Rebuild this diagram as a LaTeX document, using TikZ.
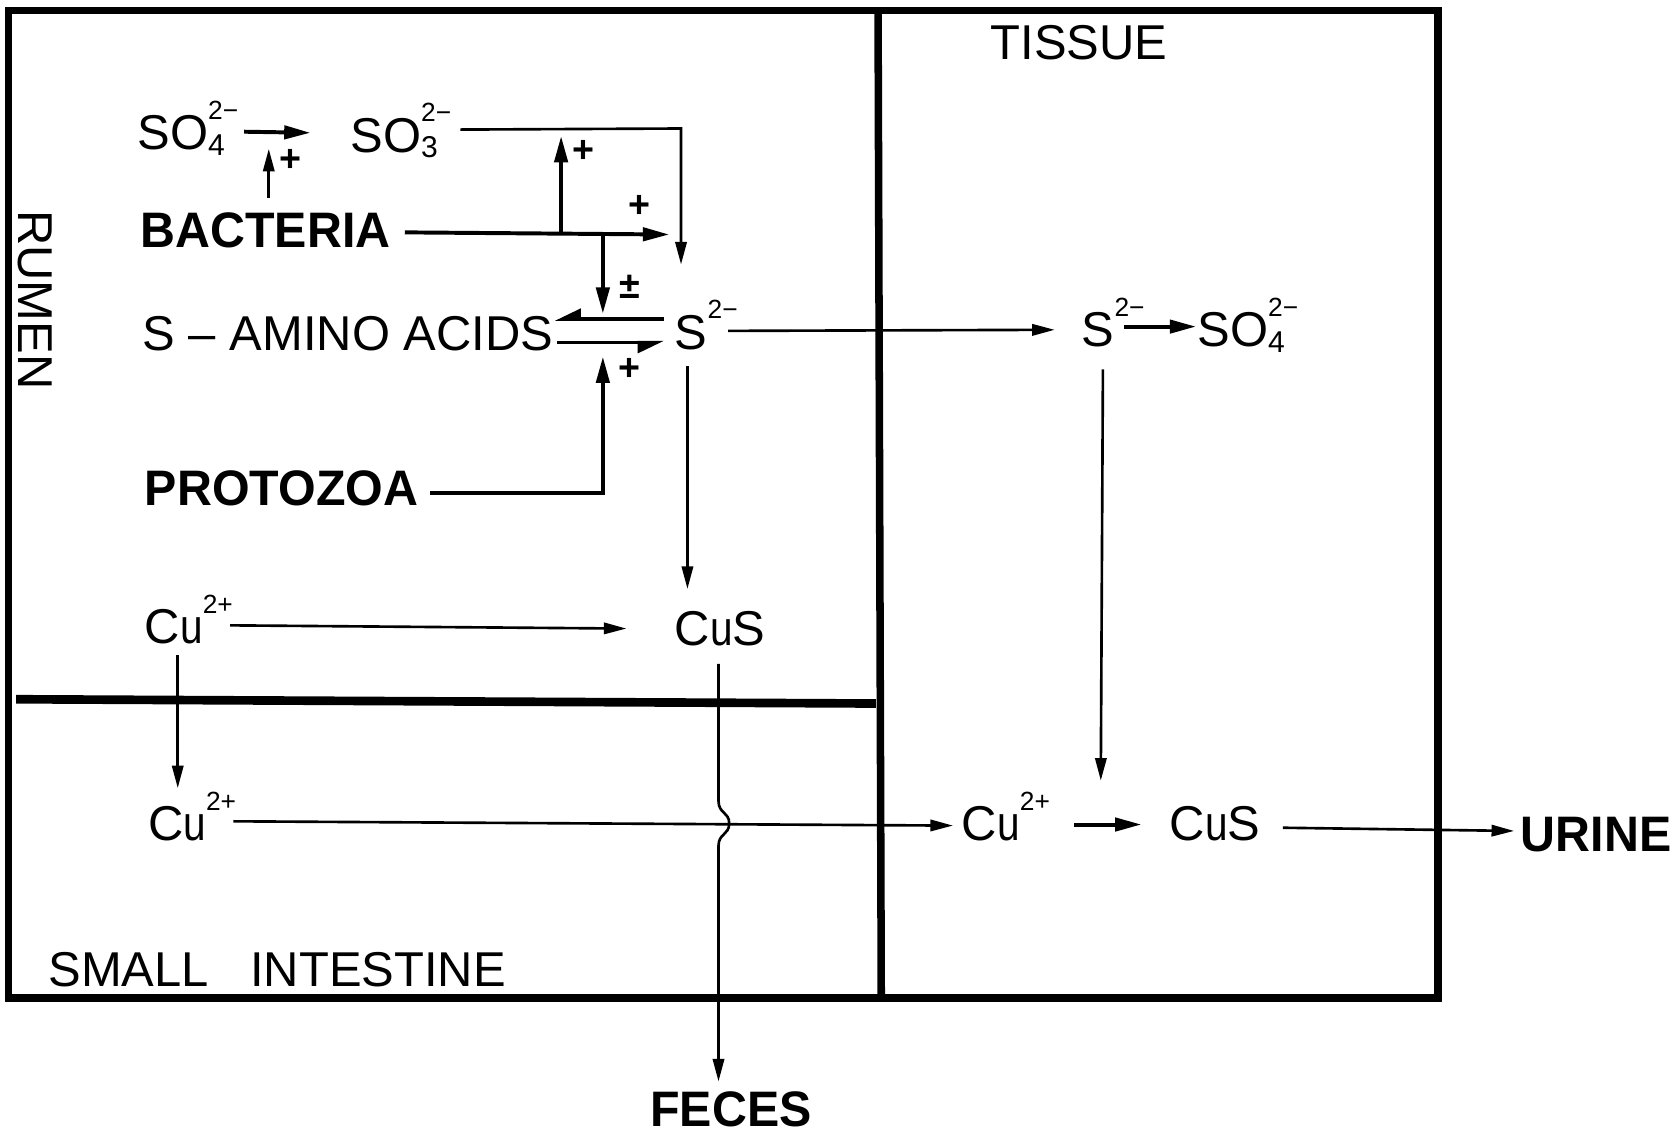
\documentclass[tikz,border=0pt]{standalone}
\usepackage{fontspec}
\setmainfont{Liberation Sans}
\newfontfamily\narrowfont[FakeStretch=0.83]{Liberation Sans}
\newfontfamily\boldcond[FakeStretch=0.97]{Liberation Sans Bold}
\usetikzlibrary{arrows.meta}
\newcommand\ionx[2]{\makebox[0pt][l]{\raisebox{-3pt}{\fontsize{16}{16}\selectfont #1}}\raisebox{16pt}{\fontsize{14}{14}\selectfont #2}}
\newcommand\cuu{C{\narrowfont u}}
\begin{document}
\begin{tikzpicture}[x=0.02cm,y=-0.02cm,
  lbl/.style={anchor=base west,inner sep=0pt,font=\fontsize{26}{28}\selectfont},
  blbl/.style={lbl,font=\boldcond\fontsize{26.5}{28}\selectfont},
  frame/.style={line width=4pt},
  thinarr/.style={line width=1.4pt,-{Triangle[length=12pt,width=6pt]}},
  thickarr/.style={line width=2.1pt,-{Triangle[length=14pt,width=7pt]}},
  harp/.style={line width=1.8pt,-{Triangle[harpoon,swap,length=12pt,width=11pt]}},
  sgn/.style={inner sep=0pt,font=\fontsize{20}{20}\selectfont\bfseries}]
\useasboundingbox (0,0) rectangle (1568,1059);
% compartments
\draw[frame] (8,10) rectangle (1343,932);
\draw[frame] (820,10) -- (823,932);
\draw[line width=4.6pt] (15,653) -- (818,657);
% labels
\node[lbl,anchor=center,rotate=-90] (rumen) at (33,280) {RUMEN};
\node[lbl] (tissue) at (925,56) {TISSUE};
\node[lbl] (si) at (45,921) {SMALL\hspace{22pt}INTESTINE};
% species
\node[lbl] (so4a) at (128,140) {SO\ionx{4}{2−}};
\node[lbl] (so3) at (327,142) {SO\ionx{3}{2−}};
\node[blbl] (bact) at (131,231) {BACTERIA};
\node[lbl] (saa) at (133,327) {S – AMINO ACIDS};
\node[lbl] (s2a) at (630,326) {S\ionx{}{2−}};
\node[blbl] (proto) at (135,472) {PROTOZOA};
\node[lbl] (cua) at (135,601) {\cuu\ionx{}{2+}};
\node[lbl] (cusa) at (630,603) {\cuu S};
\node[lbl] (cub) at (138,785) {\cuu\ionx{}{2+}};
\node[blbl] (feces) at (607,1052) {FECES};
\node[lbl] (s2t) at (1010,324) {S\ionx{}{2−}};
\node[lbl] (so4t) at (1118,324) {SO\ionx{4}{2−}};
\node[lbl] (cut) at (898,785) {\cuu\ionx{}{2+}};
\node[lbl] (cust) at (1092,785) {\cuu S};
\node[blbl] (urine) at (1420,795) {URINE};
% signs
\node[sgn] (p1) at (271,150) {+};
\node[sgn] (p2) at (545,141) {+};
\node[sgn] (p3) at (597,193) {+};
\node[sgn] (p4) at (588,268) {±};
\node[sgn] (p5) at (588,345) {+};
% connector points
\coordinate (so4out) at (228,123);
\coordinate (so3in) at (290,124);
\coordinate (bactup) at (251,185);
\coordinate (so4arrow) at (251,139);
\coordinate (so3out) at (430,121);
\coordinate (so3corner) at (636,120);
\coordinate (s2atop) at (636,247);
\coordinate (bactout) at (378,217);
\coordinate (bactend) at (625,219);
\coordinate (jup) at (524,217);
\coordinate (jupend) at (524,127);
\coordinate (jdown) at (563,218);
\coordinate (jdownend) at (563,293);
\coordinate (eqR1) at (620,298);
\coordinate (eqL1) at (518,298);
\coordinate (eqL2) at (520,320);
\coordinate (eqR2) at (620,320);
\coordinate (protoout) at (402,460);
\coordinate (protocorner) at (563,460);
\coordinate (protoend) at (563,333);
\coordinate (s2aout) at (680,309);
\coordinate (s2tin) at (985,308);
\coordinate (s2adown) at (642,342);
\coordinate (cusatop) at (642,550);
\coordinate (cuaout) at (215,584);
\coordinate (cusain) at (585,587);
\coordinate (cuadown) at (166,612);
\coordinate (cubtop) at (166,736);
\coordinate (cusadown) at (671,620);
\coordinate (bump1) at (671,748);
\coordinate (bump2) at (671,790);
\coordinate (fecestop) at (671,1010);
\coordinate (cubout) at (218,767);
\coordinate (cutin) at (890,771);
\coordinate (cutout) at (1003,770);
\coordinate (custin) at (1066,770);
\coordinate (custout) at (1198,773);
\coordinate (urinein) at (1414,776);
\coordinate (s2tout) at (1050,305);
\coordinate (so4tin) at (1117,305);
\coordinate (s2tdown) at (1030,345);
\coordinate (cutarget) at (1028,729);
% connectors
\draw[thickarr] (so4out) -- (so3in);
\draw[thinarr] (bactup) -- (so4arrow);
\draw[thinarr] (so3out) -- (so3corner) -- (s2atop);
\draw[thickarr] (bactout) -- (bactend);
\draw[thickarr] (jup) -- (jupend);
\draw[thickarr] (jdown) -- (jdownend);
\draw[harp] (eqR1) -- (eqL1);
\draw[harp] (eqL2) -- (eqR2);
\draw[thickarr] (protoout) -- (protocorner) -- (protoend);
\draw[thinarr] (s2aout) -- (s2tin);
\draw[thinarr] (s2adown) -- (cusatop);
\draw[thinarr] (cuaout) -- (cusain);
\draw[thinarr] (cuadown) -- (cubtop);
\draw[thinarr] (cusadown) -- (bump1) .. controls (671,760) and (681,758) .. (681,769) .. controls (681,780) and (671,778) .. (bump2) -- (fecestop);
\draw[thinarr] (cubout) -- (cutin);
\draw[thickarr] (cutout) -- (custin);
\draw[thinarr] (custout) -- (urinein);
\draw[thickarr] (s2tout) -- (so4tin);
\draw[thinarr] (s2tdown) -- (cutarget);
\end{tikzpicture}
\end{document}
